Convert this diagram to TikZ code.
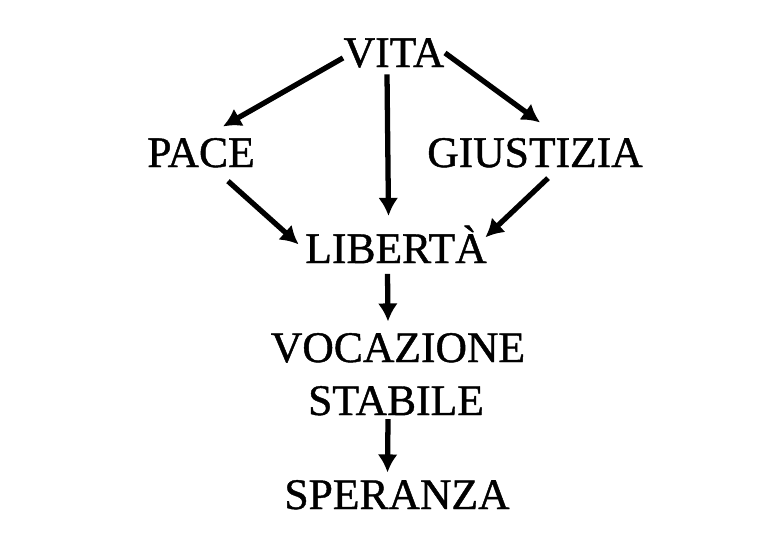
\documentclass[tikz,border=0pt]{standalone}
\usepackage{fontspec}
\setmainfont{Liberation Serif}[FakeBold=1]
\usetikzlibrary{arrows.meta}

\begin{document}
\begin{tikzpicture}
		\useasboundingbox (0,0) rectangle (7.83,5.45);
		\begin{scope}[every node/.style={inner sep=0pt,anchor=base,font=\fontsize{12.4}{15}\selectfont}]
			\node (vita) at (3.94,4.78) {VITA};
			\node (pace) at (2.01,3.78) {PACE};
			\node (giustizia) at (5.35,3.78) {GIUSTIZIA};
			\node (liberta) at (3.96,2.82) {LIBERTÀ};
			\node (vocazione) at (3.98,1.83) {VOCAZIONE};
			\node (stabile) at (3.96,1.30) {STABILE};
			\node (speranza) at (3.97,0.36) {SPERANZA};
		\end{scope}
		
		\begin{scope}[every edge/.style={draw,line width=1.5pt,-{Latex[length=1.8mm,width=2mm]}}]
			\path ([yshift=-0.5mm]vita.west) edge ([xshift=2.2mm,yshift=1.1mm]pace.north);
			\path ([xshift=-0.7mm,yshift=-0.6mm]vita.south) edge ([xshift=-0.75mm,yshift=0.9mm]liberta.north);
			\path (vita.east) edge ([xshift=0.5mm,yshift=1.5mm]giustizia.north);
			\path ([xshift=2.7mm,yshift=-1.3mm]pace.south) edge ([xshift=-0.6mm]liberta.west);
			\path ([xshift=1.3mm,yshift=-1mm]giustizia.south) edge ([xshift=-0.2mm,yshift=0.7mm]liberta.east);
			\path ([xshift=-0.85mm,yshift=-1mm]liberta.south) edge ([xshift=-1mm,yshift=1.1mm]vocazione.north);
			\path ([xshift=-0.8mm,yshift=-0.3mm]stabile.south) edge ([xshift=-0.95mm,yshift=0.7mm]speranza.north);
		\end{scope}
	\end{tikzpicture}
\end{document}
